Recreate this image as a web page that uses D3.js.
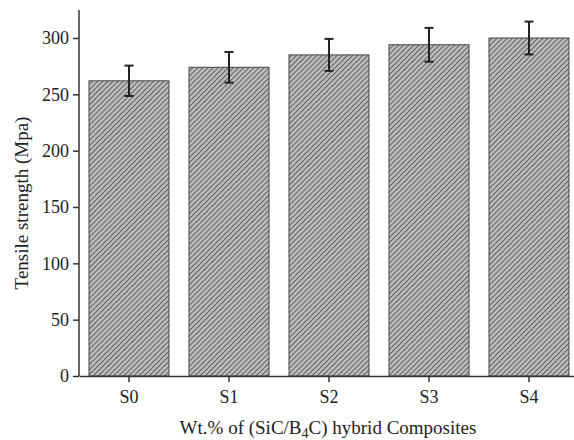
<!DOCTYPE html>
<html>
<head>
<meta charset="utf-8">
<script src="https://cdn.jsdelivr.net/npm/d3@7"></script>
<style>
    body { margin: 0; background: #fff; }
    text { font-family: "Liberation Serif", "Times New Roman", serif; fill: #222; }
</style>
</head>
<body>
<div id="chart"></div>
<script>
// data
const samples = ['S0', 'S1', 'S2', 'S3', 'S4'];
const strength = [262, 274, 285, 294, 300];
const errors = [13.5, 13.6, 14.2, 15, 14.6];
const yTicks = [0, 50, 100, 150, 200, 250, 300];

const width = 574;
const height = 440;
const plotLeft = 79;
const plotTop = 10;
const plotBottom = 376;

const svg = d3.select('#chart')
    .append('svg').attr('width', width).attr('height', height);

// hatch pattern for the bars
const pat = svg.append('defs').append('pattern')
    .attr('id', 'hatch')
    .attr('patternUnits', 'userSpaceOnUse')
    .attr('width', 3.6).attr('height', 3.6)
    .attr('patternTransform', 'rotate(45)');
pat.append('rect').attr('width', 3.6).attr('height', 3.6).attr('fill', '#bdbdbd');
pat.append('line')
    .attr('x1', 0).attr('y1', 0).attr('x2', 0).attr('y2', 3.6)
    .attr('stroke', '#5e5e5e').attr('stroke-width', 2);

// scales
const x = d3.scaleBand()
    .domain(samples)
    .range([plotLeft, plotLeft + 500])
    .paddingInner(0.2)
    .paddingOuter(0.1);
const y = d3.scaleLinear()
    .domain([0, 300])
    .range([plotBottom, plotBottom - 338]);

// bars
svg.append('g').selectAll('rect')
    .data(samples)
    .join('rect')
    .attr('x', d => x(d))
    .attr('y', (d, i) => y(strength[i]))
    .attr('width', x.bandwidth())
    .attr('height', (d, i) => y(0) - y(strength[i]))
    .attr('fill', 'url(#hatch)')
    .attr('stroke', '#444')
    .attr('stroke-width', 1);

// error bars
const err = svg.append('g').attr('stroke', '#222').attr('stroke-width', 2);
samples.forEach((s, i) => {
    const cx = x(s) + x.bandwidth() / 2;
    const hi = y(strength[i] + errors[i]);
    const lo = y(strength[i] - errors[i]);
    err.append('line').attr('x1', cx).attr('x2', cx).attr('y1', hi).attr('y2', lo);
    err.append('line').attr('x1', cx - 4.5).attr('x2', cx + 4.5).attr('y1', hi).attr('y2', hi);
    err.append('line').attr('x1', cx - 4.5).attr('x2', cx + 4.5).attr('y1', lo).attr('y2', lo);
});

// axes
const yAxis = d3.axisLeft(y).tickValues(yTicks).tickSize(6).tickPadding(4).tickSizeOuter(0);
const xAxis = d3.axisBottom(x).tickSize(6).tickPadding(8).tickSizeOuter(0);

const gy = svg.append('g')
    .attr('transform', `translate(${plotLeft},0)`)
    .call(yAxis);
gy.select('.domain').attr('d', `M0,${plotTop}V${plotBottom}`);

const gx = svg.append('g')
    .attr('transform', `translate(0,${plotBottom})`)
    .call(xAxis);

svg.selectAll('.domain, .tick line').attr('stroke', '#333').attr('stroke-width', 1.5);
svg.selectAll('.tick text').attr('font-size', 18).attr('fill', '#222')
    .style('font-family', '"Liberation Serif", serif');

// axis titles
svg.append('text')
    .attr('transform', `translate(28,203) rotate(-90)`)
    .attr('text-anchor', 'middle')
    .attr('font-size', 19)
    .text('Tensile strength (Mpa)');

const xt = svg.append('text')
    .attr('x', 328)
    .attr('y', 434)
    .attr('text-anchor', 'middle')
    .attr('font-size', 19);
xt.append('tspan').text('Wt.% of (SiC/B');
xt.append('tspan').attr('font-size', 14).attr('dy', 4).text('4');
xt.append('tspan').attr('dy', -4).text('C) hybrid Composites');
</script>
</body>
</html>
